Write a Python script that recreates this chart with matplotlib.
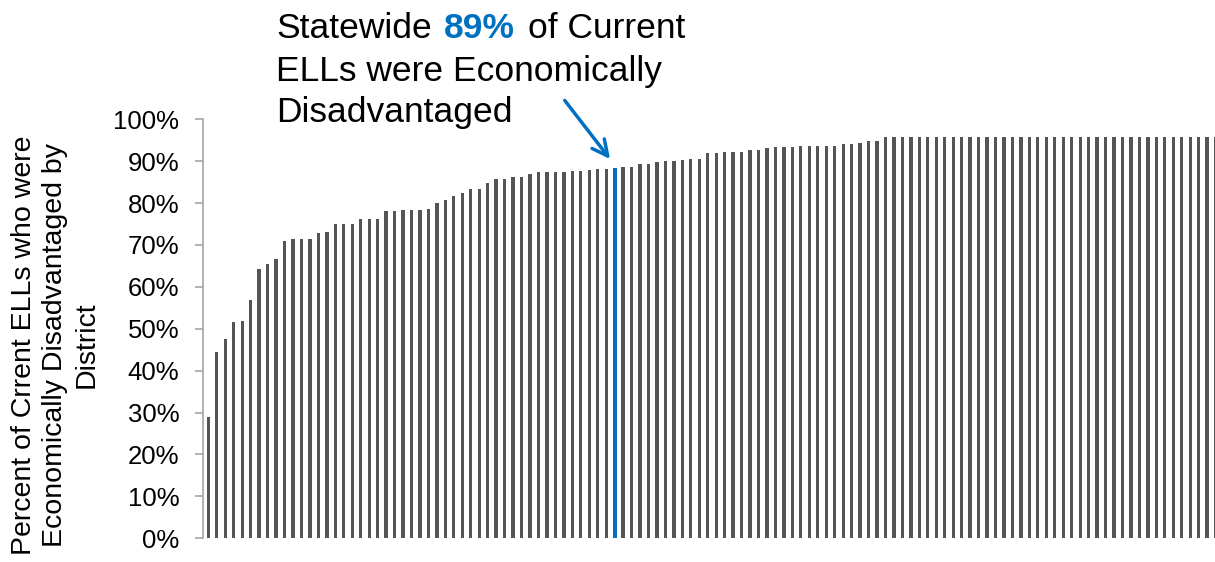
import matplotlib
matplotlib.use("Agg")
import matplotlib.pyplot as plt
from matplotlib.ticker import PercentFormatter

plt.rcParams['font.family'] = ['Liberation Sans', 'DejaVu Sans']

# share of current ELLs who were economically disadvantaged, one value per district (sorted)
pct_disadvantaged = [
    28.9, 44.4, 47.5, 51.5, 51.8, 56.9, 64.3, 65.5, 66.7, 71.0,
    71.4, 71.4, 71.4, 72.9, 73.2, 75.0, 75.0, 75.0, 76.3, 76.3,
    76.3, 78.1, 78.1, 78.4, 78.4, 78.4, 78.7, 79.9, 80.8, 81.7,
    82.3, 83.3, 83.3, 84.8, 85.7, 85.7, 86.3, 86.3, 86.9, 87.3,
    87.3, 87.3, 87.3, 87.6, 87.6, 87.8, 88.1, 88.1, 88.4, 88.7,
    88.7, 89.4, 89.4, 89.7, 90.0, 90.0, 90.3, 90.6, 90.6, 91.9,
    91.9, 92.1, 92.1, 92.1, 92.7, 92.7, 93.1, 93.4, 93.4, 93.4,
    93.7, 93.7, 93.7, 93.7, 93.7, 94.0, 94.0, 94.3, 94.9, 94.9,
    95.8, 95.8, 95.8, 95.8, 95.8, 95.8, 95.8, 95.8, 95.8, 95.8,
    95.8, 95.8, 95.8, 95.8, 95.8, 95.8, 95.8, 95.8, 95.8, 95.8,
    95.8, 95.8, 95.8, 95.8, 95.8, 95.8, 95.8, 95.8, 95.8, 95.8,
    95.8, 95.8, 95.8, 95.8, 95.8, 95.8, 95.8, 95.8, 95.8, 95.8,
]
statewide_idx = 48      # the bar standing for the statewide figure
statewide_label = "89%"
y_ticks = [0, 10, 20, 30, 40, 50, 60, 70, 80, 90, 100]

GRAY = '#555555'
BLUE = '#0070C0'
AXIS_GRAY = '#a6a6a6'

fig = plt.figure(figsize=(12.15, 5.62), dpi=100)
ax = fig.add_axes([0.1671, 0.0422, 0.8329, 0.7456])

xs = list(range(len(pct_disadvantaged)))
colors = [BLUE if i == statewide_idx else GRAY for i in xs]
widths = [0.5 if i == statewide_idx else 0.39 for i in xs]
ax.bar(xs, pct_disadvantaged, width=widths, color=colors, linewidth=0)

ax.set_xlim(-0.63, 118.93)
ax.set_ylim(0, 100)
ax.set_yticks(y_ticks)
ax.yaxis.set_major_formatter(PercentFormatter(decimals=0))
ax.set_xticks([])
for side in ('top', 'right', 'bottom'):
    ax.spines[side].set_visible(False)
ax.spines['left'].set_color(AXIS_GRAY)
ax.spines['left'].set_linewidth(1.2)
ax.tick_params(axis='y', direction='out', length=6, width=1.2, color=AXIS_GRAY,
               labelsize=18.5, pad=11, labelcolor='black')

fig.text(55.5 / 1215, 1 - 345 / 562,
         "Percent of Crrent ELLs who were\nEconomically Disadvantaged by\nDistrict",
         rotation=90, ha='center', va='center', multialignment='center',
         fontsize=20.5, linespacing=1.25)

# callout text, the percentage in bold blue
fs = 25.5
x0 = 276 / 1215
t1 = fig.text(x0, 1 - 38 / 562, "Statewide", fontsize=fs, va='baseline', ha='left')
t2 = ax.annotate(statewide_label, xy=(1, 0), xycoords=t1, xytext=(12, 0),
                 textcoords='offset pixels', fontsize=fs, fontweight='bold',
                 color=BLUE, va='bottom', ha='left')
ax.annotate("of Current", xy=(1, 0), xycoords=t2, xytext=(13, 0),
            textcoords='offset pixels', fontsize=fs, va='bottom', ha='left')
fig.text(x0, 1 - 81.5 / 562, "ELLs were Economically", fontsize=fs, va='baseline', ha='left')
fig.text(x0, 1 - 122 / 562, "Disadvantaged", fontsize=fs, va='baseline', ha='left')

# arrow pointing at the statewide bar
ax.annotate('', xy=(47.46, 90.5), xytext=(42.1, 104.5), xycoords='data',
            annotation_clip=False,
            arrowprops=dict(arrowstyle='->', color=BLUE, lw=2.5, mutation_scale=28,
                            shrinkA=0, shrinkB=0))

fig.savefig('out.png', dpi=100)
